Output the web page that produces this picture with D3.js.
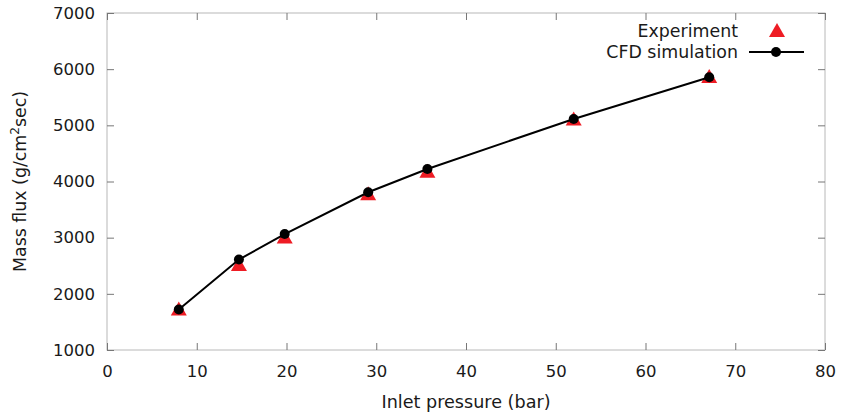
<!DOCTYPE html>
<html>
<head>
<meta charset="utf-8">
<script src="https://cdn.jsdelivr.net/npm/d3@7"></script>
<style>
  body { margin: 0; background: #fff; }
  text { font-family: "DejaVu Sans", sans-serif; fill: #1a1a1a; }
</style>
</head>
<body>
<div id="chart"></div>
<script>
var svgWidth = 841;
var svgHeight = 415;

var margin = { top: 13, right: 16, bottom: 65, left: 107 };
var width = svgWidth - margin.left - margin.right;
var height = svgHeight - margin.top - margin.bottom;

// data
var pressure = [8.0, 14.7, 19.8, 29.1, 35.7, 52.0, 67.1];
var experiment = [1740, 2530, 3020, 3790, 4190, 5120, 5880];
var cfd = [1720, 2610, 3065, 3808, 4222, 5114, 5855];
var xTicks = [0, 10, 20, 30, 40, 50, 60, 70, 80];
var yTicks = [1000, 2000, 3000, 4000, 5000, 6000, 7000];

var svg = d3.select("#chart")
    .append("svg")
    .attr("width", svgWidth)
    .attr("height", svgHeight);

var chartGroup = svg.append("g")
    .attr("transform", `translate(${margin.left}, ${margin.top})`);

var xScale = d3.scaleLinear().domain([0, 80]).range([0, width]);
var yScale = d3.scaleLinear().domain([1000, 7000]).range([height, 0]);

// frame
chartGroup.append("rect")
    .attr("width", width)
    .attr("height", height)
    .attr("fill", "none")
    .attr("stroke", "#b8b8b8")
    .attr("stroke-width", 1);

// axes with inward ticks
function styleAxis(g) {
    g.select(".domain").remove();
    g.selectAll(".tick line").attr("stroke", "#777");
    g.selectAll(".tick text")
        .attr("fill", "#1a1a1a")
        .style("font-size", "16.5px")
        .style("font-family", "DejaVu Sans, sans-serif");
}

chartGroup.append("g")
    .attr("transform", `translate(0, ${height})`)
    .call(d3.axisBottom(xScale).tickValues(xTicks).tickFormat(d3.format("d"))
        .tickSizeInner(-7).tickSizeOuter(0).tickPadding(15))
    .call(styleAxis);

chartGroup.append("g")
    .call(d3.axisLeft(yScale).tickValues(yTicks).tickFormat(d3.format("d"))
        .tickSizeInner(-7).tickSizeOuter(0).tickPadding(12))
    .call(styleAxis);

// mirrored ticks on top and right
chartGroup.append("g")
    .call(d3.axisTop(xScale).tickValues(xTicks).tickSizeInner(-7).tickSizeOuter(0).tickFormat(""))
    .call(styleAxis);

chartGroup.append("g")
    .attr("transform", `translate(${width}, 0)`)
    .call(d3.axisRight(yScale).tickValues(yTicks).tickSizeInner(-7).tickSizeOuter(0).tickFormat(""))
    .call(styleAxis);

var expData = pressure.map((p, i) => ({ x: p, y: experiment[i] }));
var cfdData = pressure.map((p, i) => ({ x: p, y: cfd[i] }));

// triangle centred on its bounding box, like gnuplot's
var tri = "M0,-7L8,7L-8,7Z";

// experiment triangles
chartGroup.selectAll(".exp")
    .data(expData)
    .enter()
    .append("path")
    .attr("class", "exp")
    .attr("d", tri)
    .attr("transform", d => `translate(${xScale(d.x)}, ${yScale(d.y)})`)
    .attr("fill", "#ee1c24");

// CFD line + points
var line = d3.line().x(d => xScale(d.x)).y(d => yScale(d.y));

chartGroup.append("path")
    .datum(cfdData)
    .attr("d", line)
    .attr("fill", "none")
    .attr("stroke", "#000")
    .attr("stroke-width", 2);

chartGroup.selectAll(".cfd")
    .data(cfdData)
    .enter()
    .append("circle")
    .attr("class", "cfd")
    .attr("cx", d => xScale(d.x))
    .attr("cy", d => yScale(d.y))
    .attr("r", 5)
    .attr("fill", "#000");

// legend
var legend = svg.append("g");
legend.append("text")
    .attr("x", 738).attr("y", 37)
    .attr("text-anchor", "end")
    .style("font-size", "17.4px")
    .text("Experiment");
legend.append("path")
    .attr("d", tri)
    .attr("transform", "translate(777, 30)")
    .attr("fill", "#ee1c24");
legend.append("text")
    .attr("x", 738).attr("y", 58)
    .attr("text-anchor", "end")
    .style("font-size", "17.4px")
    .text("CFD simulation");
legend.append("line")
    .attr("x1", 749).attr("x2", 804)
    .attr("y1", 52).attr("y2", 52)
    .attr("stroke", "#000")
    .attr("stroke-width", 2);
legend.append("circle")
    .attr("cx", 776).attr("cy", 52)
    .attr("r", 5)
    .attr("fill", "#000");

// axis titles
svg.append("text")
    .attr("x", margin.left + width / 2)
    .attr("y", 408)
    .attr("text-anchor", "middle")
    .style("font-size", "17.6px")
    .text("Inlet pressure (bar)");

var yTitle = svg.append("text")
    .attr("transform", `translate(26, ${margin.top + height / 2}) rotate(-90)`)
    .attr("text-anchor", "middle")
    .style("font-size", "17.4px");
yTitle.append("tspan").text("Mass flux (g/cm");
yTitle.append("tspan").attr("dy", -7).style("font-size", "12px").text("2");
yTitle.append("tspan").attr("dy", 7).text("sec)");
</script>
</body>
</html>
